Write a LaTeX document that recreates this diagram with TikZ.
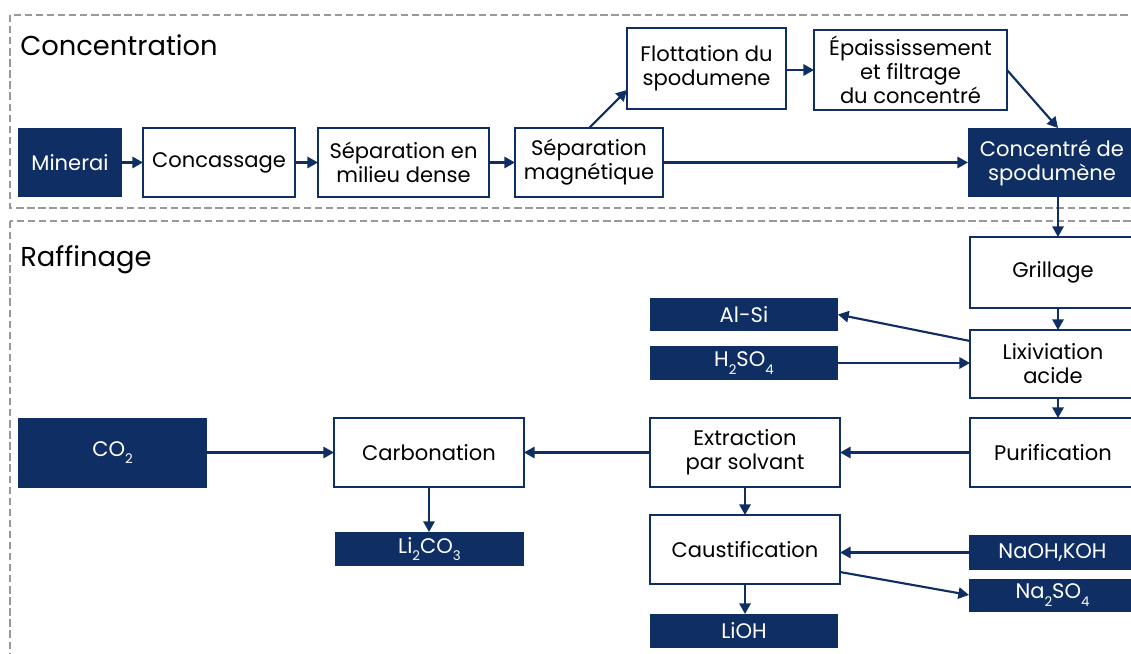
\documentclass[tikz,border=0pt]{standalone}
\usepackage{fontspec}
\setmainfont{Poppins}
\usetikzlibrary{arrows.meta}
\definecolor{navy}{HTML}{0F2E63}
\definecolor{frame}{HTML}{999999}
\newcommand\sbs[1]{\raisebox{-0.65ex}{\fontsize{10}{10}\selectfont #1}}
\def\u{0.75pt}
\tikzset{
  base/.style={inner sep=0pt, outer sep=0pt, align=center, font=\fontsize{15.8}{18}\selectfont},
  proc/.style={base, draw=navy, line width=1.9pt, fill=white, text=black},
  dark/.style={base, fill=navy, text=white},
  arr/.style={draw=navy, line width=1.6pt, -{Triangle[length=8pt,width=8.5pt]}},
  zone/.style={draw=frame, line width=1.8pt, dash pattern=on 5.5pt off 2.8pt},
  title/.style={inner sep=0pt, anchor=base west, font=\fontsize{20.5}{24}\selectfont, text=black}
}
\begin{document}
\begin{tikzpicture}[x=0.75pt, y=-0.75pt]
\useasboundingbox (0,0) rectangle (1131,653);
\clip (0,0) rectangle (1131,653);
% zones
\draw[zone] (10,15) rectangle (1145,208);
\draw[zone] (10,221) rectangle (1145,670);
\node[title] (tconc) at (20,55) {Concentration};
\node[title] (traf) at (20,266) {Raffinage};
% concentration row
\node[dark, minimum width=104*\u, minimum height=69*\u] (minerai) at (70,162.5) {Minerai};
\node[proc, minimum width=152*\u, minimum height=69*\u] (concass) at (219,162.5) {Concassage};
\node[proc, minimum width=171*\u, minimum height=69*\u] (sepdense) at (403.5,162.5) {Séparation en\\milieu dense};
\node[proc, minimum width=148*\u, minimum height=69*\u] (sepmag) at (589,162.5) {Séparation\\magnétique};
\node[proc, minimum width=159*\u, minimum height=81*\u] (flott) at (706.5,68.5) {Flottation du\\spodumene};
\node[proc, minimum width=193*\u, minimum height=80*\u] (epais) at (910.5,70) {Épaississement\\et filtrage\\du concentré};
\node[dark, minimum width=168*\u, minimum height=69*\u] (concsp) at (1052,162.5) {Concentré de\\spodumène};
% raffinage
\node[proc, minimum width=166*\u, minimum height=71*\u] (grill) at (1053,272.5) {Grillage};
\node[proc, minimum width=166*\u, minimum height=68*\u] (lixi) at (1053,364) {Lixiviation\\acide};
\node[proc, minimum width=166*\u, minimum height=69*\u] (purif) at (1053,452.5) {Purification};
\node[dark, minimum width=188*\u, minimum height=33*\u] (alsi) at (744,314.5) {Al-Si};
\node[dark, minimum width=188*\u, minimum height=34*\u] (hso) at (744,363) {H\sbs{2}SO\sbs{4}};
\node[dark, minimum width=189*\u, minimum height=70*\u] (co2) at (112.5,452.5) {CO\sbs{2}};
\node[proc, minimum width=190*\u, minimum height=69*\u] (carb) at (429,452.5) {Carbonation};
\node[dark, minimum width=189*\u, minimum height=34*\u] (lico) at (429.5,549) {Li\sbs{2}CO\sbs{3}};
\node[proc, minimum width=190*\u, minimum height=69*\u] (extr) at (745,452.5) {Extraction\\par solvant};
\node[proc, minimum width=190*\u, minimum height=69*\u] (caust) at (745,549.5) {Caustification};
\node[dark, minimum width=188*\u, minimum height=34*\u] (lioh) at (744,631) {LiOH};
\node[dark, minimum width=167*\u, minimum height=35*\u] (naoh) at (1052.5,552.5) {NaOH,KOH};
\node[dark, minimum width=167*\u, minimum height=33*\u] (naso) at (1052.5,595) {Na\sbs{2}SO\sbs{4}};
% connectors
\draw[arr] (minerai) -- (concass);
\draw[arr] (concass) -- (sepdense);
\draw[arr] (sepdense) -- (sepmag);
\draw[arr] (sepmag.north) -- (flott.west |- 0,90);
\draw[arr] (flott.east |- 0,70) -- (epais.west |- 0,70);
\draw[arr] (epais.east) -- (1058,0 |- concsp.north);
\draw[arr] (sepmag) -- (concsp);
\draw[arr] (1058,0 |- concsp.south) -- (1058,0 |- grill.north);
\draw[arr] (1058,0 |- grill.south) -- (1058,0 |- lixi.north);
\draw[arr] (1058,0 |- lixi.south) -- (1058,0 |- purif.north);
\draw[arr] (lixi.west |- 0,341) -- (alsi.east);
\draw[arr] (hso.east) -- (hso.east -| lixi.west);
\draw[arr] (purif) -- (extr);
\draw[arr] (extr) -- (carb);
\draw[arr] (co2) -- (carb);
\draw[arr] (carb.south) -- (carb.south |- lico.north);
\draw[arr] (extr.south) -- (caust.north);
\draw[arr] (caust.south) -- (caust.south |- lioh.north);
\draw[arr] (naoh.west) -- (naoh.west -| caust.east);
\draw[arr] (caust.east |- 0,572) -- (naso.west);
\end{tikzpicture}
\end{document}
